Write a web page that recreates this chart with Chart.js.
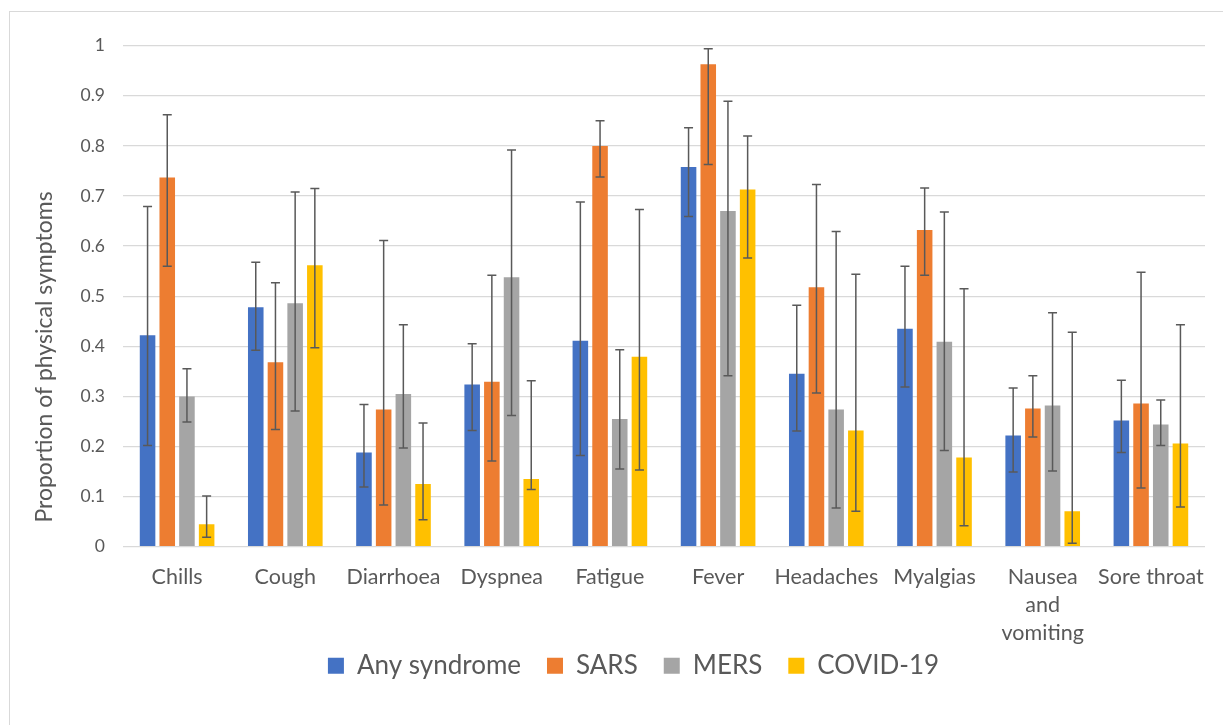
<!DOCTYPE html>
<html>
<head>
<meta charset="utf-8">
<script src="https://cdn.jsdelivr.net/npm/chart.js@4.4.1/dist/chart.umd.min.js"></script>
<style>
  html, body { margin: 0; padding: 0; background: #fff; overflow: hidden; }
  #frame { position: absolute; left: 9px; top: 11px; width: 1400px; height: 900px;
    border-left: 1px solid #d9d9d9; border-top: 1px solid #d9d9d9; }
  #myChart { position: absolute; left: 0; top: 0; }
</style>
</head>
<body>
<div id="frame"></div>
<canvas id="myChart" width="1223" height="725"></canvas>
<script>
const categories = ["Chills", "Cough", "Diarrhoea", "Dyspnea", "Fatigue", "Fever",
  "Headaches", "Myalgias", ["Nausea", "and", "vomiting"], "Sore throat"];

const yTickLabels = ["0", "0.1", "0.2", "0.3", "0.4", "0.5", "0.6", "0.7", "0.8", "0.9", "1"];

const anySyndrome = [0.422, 0.478, 0.188, 0.324, 0.411, 0.758, 0.345, 0.435, 0.222, 0.252];
const anyLow = [0.202, 0.392, 0.119, 0.232, 0.182, 0.659, 0.231, 0.319, 0.149, 0.188];
const anyHigh = [0.679, 0.568, 0.284, 0.405, 0.688, 0.836, 0.482, 0.560, 0.317, 0.332];

const sars = [0.737, 0.368, 0.274, 0.329, 0.800, 0.963, 0.518, 0.632, 0.276, 0.286];
const sarsLow = [0.560, 0.234, 0.083, 0.171, 0.738, 0.763, 0.307, 0.542, 0.219, 0.117];
const sarsHigh = [0.862, 0.527, 0.611, 0.542, 0.850, 0.994, 0.723, 0.716, 0.341, 0.548];

const mers = [0.300, 0.486, 0.305, 0.538, 0.255, 0.670, 0.274, 0.409, 0.282, 0.244];
const mersLow = [0.249, 0.271, 0.197, 0.262, 0.155, 0.341, 0.077, 0.192, 0.151, 0.202];
const mersHigh = [0.355, 0.708, 0.443, 0.792, 0.393, 0.889, 0.629, 0.668, 0.467, 0.293];

const covid = [0.045, 0.562, 0.125, 0.135, 0.379, 0.713, 0.232, 0.178, 0.071, 0.206];
const covidLow = [0.019, 0.397, 0.054, 0.114, 0.153, 0.576, 0.071, 0.042, 0.007, 0.079];
const covidHigh = [0.101, 0.715, 0.247, 0.331, 0.673, 0.820, 0.544, 0.515, 0.428, 0.443];

const yTitle = "Proportion of physical symptoms";
const textColor = "#595959";
const fontName = "Lato";

const errorBars = {
  id: "errorBars",
  afterDatasetsDraw(chart) {
    const ctx = chart.ctx;
    const y = chart.scales.y;
    ctx.save();
    ctx.strokeStyle = "#595959";
    ctx.lineWidth = 1.5;
    chart.data.datasets.forEach((ds, di) => {
      const meta = chart.getDatasetMeta(di);
      meta.data.forEach((bar, i) => {
        const top = y.getPixelForValue(ds.errHigh[i]);
        const bottom = y.getPixelForValue(ds.errLow[i]);
        ctx.beginPath();
        ctx.moveTo(bar.x, top);
        ctx.lineTo(bar.x, bottom);
        ctx.moveTo(bar.x - 4.5, top);
        ctx.lineTo(bar.x + 4.5, top);
        ctx.moveTo(bar.x - 4.5, bottom);
        ctx.lineTo(bar.x + 4.5, bottom);
        ctx.stroke();
      });
    });
    ctx.restore();
  }
};

// y title sits below the centre of the axis in the original, so draw it by hand
const sideTitle = {
  id: "sideTitle",
  afterLayout(chart) {
    // the legend in the original is a bit right of centre
    chart.legend.left += 31;
    chart.legend.right += 31;
  },
  afterDraw(chart) {
    const ctx = chart.ctx;
    ctx.save();
    ctx.translate(45, 357);
    ctx.rotate(-Math.PI / 2);
    ctx.font = "23px " + fontName;
    ctx.fillStyle = textColor;
    ctx.textAlign = "center";
    ctx.textBaseline = "middle";
    ctx.fillText(yTitle, 0, 0);
    ctx.restore();
  }
};

const makeSet = (label, data, low, high, color) => ({
  label: label,
  data: data,
  errLow: low,
  errHigh: high,
  backgroundColor: color,
  categoryPercentage: 0.728,
  barPercentage: 0.79
});

const ctx = document.getElementById("myChart");
const myChart = new Chart(ctx, {
  type: "bar",
  data: {
    labels: categories,
    datasets: [
      makeSet("Any syndrome", anySyndrome, anyLow, anyHigh, "#4472C4"),
      makeSet("SARS", sars, sarsLow, sarsHigh, "#ED7D31"),
      makeSet("MERS", mers, mersLow, mersHigh, "#A5A5A5"),
      makeSet("COVID-19", covid, covidLow, covidHigh, "#FFC000")
    ]
  },
  options: {
    responsive: false,
    animation: false,
    layout: {
      padding: { top: 45.7, right: 18, bottom: 36.3, left: 0 }
    },
    plugins: {
      tooltip: { enabled: false },
      legend: {
        position: "bottom",
        labels: {
          boxWidth: 16,
          boxHeight: 16,
          padding: 26,
          color: textColor,
          font: { family: fontName, size: 26 }
        }
      }
    },
    scales: {
      x: {
        afterFit: (scale) => {
          scale.height = 80;
          // the three-line label runs past the axis box, keep it unclipped
          scale._computeLabelArea = () => null;
        },
        grid: { display: false },
        border: { display: false },
        ticks: {
          color: textColor,
          padding: 8,
          maxRotation: 0,
          autoSkip: false,
          font: { family: fontName, size: 21.5, lineHeight: 1.3 }
        }
      },
      y: {
        min: 0,
        max: 1,
        afterFit: (scale) => { scale.width = 123; },
        border: { display: false },
        grid: { color: "#d9d9d9", lineWidth: 1.3, drawTicks: false },
        ticks: {
          stepSize: 0.1,
          padding: 18,
          color: textColor,
          font: { family: fontName, size: 17.5 },
          callback: (value, index) => yTickLabels[index]
        }
      }
    }
  },
  plugins: [errorBars, sideTitle]
});
</script>
</body>
</html>
